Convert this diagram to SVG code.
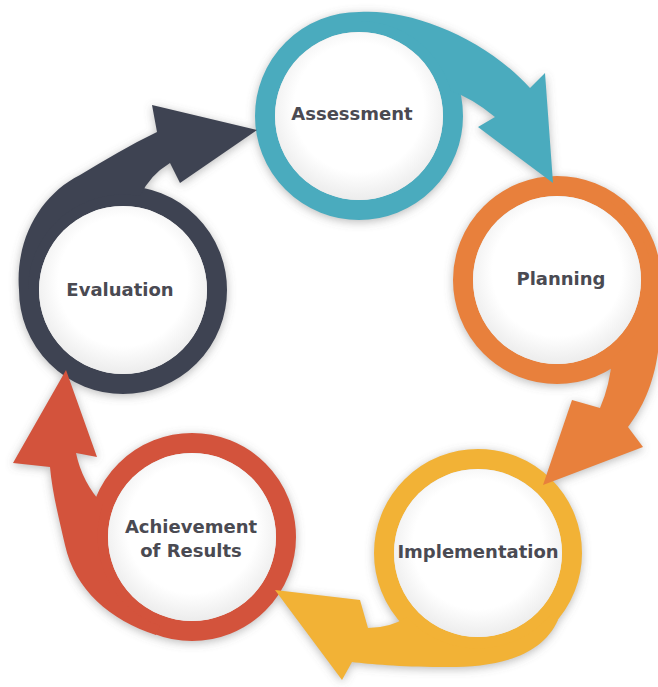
<svg xmlns="http://www.w3.org/2000/svg" xmlns:xlink="http://www.w3.org/1999/xlink" width="658" height="687" viewBox="0 0 658 687">
<defs>
<filter id="sh" x="-10%" y="-10%" width="120%" height="120%">
<feGaussianBlur in="SourceAlpha" stdDeviation="5" result="b"/>
<feOffset in="b" dx="0" dy="2" result="o"/>
<feFlood flood-color="#666666" flood-opacity="0.45"/>
<feComposite in2="o" operator="in"/>
</filter>
<radialGradient id="wg" cx="50%" cy="45%" r="55%">
<stop offset="0.7" stop-color="#ffffff"/>
<stop offset="1" stop-color="#ececec"/>
</radialGradient>
</defs>
<style>
.ring{fill:none;stroke-width:20}
.in{fill:url(#wg)}
.lbl{font-family:"DejaVu Sans","Liberation Sans",sans-serif;font-weight:bold;font-size:18px;fill:#4a4a52;text-anchor:middle}
</style>
<rect width="658" height="687" fill="#ffffff"/>
<g id="shadows" filter="url(#sh)">
<use xlink:href="#r1"/><use xlink:href="#r2"/><use xlink:href="#r3"/><use xlink:href="#r4"/><use xlink:href="#r5"/>
<use xlink:href="#a1"/><use xlink:href="#a2"/><use xlink:href="#a3"/><use xlink:href="#a4"/><use xlink:href="#a5"/>
</g>
<g id="nodes">
<g id="assessment">
<circle id="r1" class="ring" cx="359" cy="116" r="94" stroke="#4aabbe"/>
<circle class="in" cx="359" cy="116" r="84"/>
<text class="lbl" x="352" y="120">Assessment</text>
</g>
<g id="planning">
<circle id="r2" class="ring" cx="557" cy="280" r="94" stroke="#e8803c"/>
<circle class="in" cx="557" cy="280" r="84"/>
<text class="lbl" x="561" y="285">Planning</text>
</g>
<g id="implementation">
<circle id="r3" class="ring" cx="478" cy="553" r="94" stroke="#f2b236"/>
<circle class="in" cx="478" cy="553" r="84"/>
<text class="lbl" x="478" y="558">Implementation</text>
</g>
<g id="achievement">
<circle id="r4" class="ring" cx="192" cy="537" r="94" stroke="#d3533c"/>
<circle class="in" cx="192" cy="537" r="84"/>
<text class="lbl" x="191" y="533">Achievement</text>
<text class="lbl" x="191" y="557">of Results</text>
</g>
<g id="evaluation">
<circle id="r5" class="ring" cx="123" cy="290" r="94" stroke="#3e4352"/>
<circle class="in" cx="123" cy="290" r="84"/>
<text class="lbl" x="120" y="296">Evaluation</text>
</g>
</g>
<g id="connectors">
<path id="a1" fill="#4aabbe" d="M359,12 C410,8 485,38 530,88 L545,73 L553,183 L478,127 L495,117 Q472,98 451,91 A95,95 0 0 0 359,21 Z"/>
<path id="a2" fill="#e8803c" d="M624,200 C650,225 662,280 660,330 C658,375 645,405 628,427 L643,447 L543,485 L572,400 L600,408 Q610,385 612,358 A95,95 0 0 0 604,198 Z"/>
<path id="a3" fill="#f2b236" d="M558,620 C540,660 490,668 440,667 C400,667 370,664 352,662 L342,680 L275,590 L360,600 L368,628 Q390,628 407,617 A95,95 0 0 0 551,614 Z"/>
<path id="a4" fill="#d3533c" d="M156,635 C110,620 75,590 65,545 C58,515 52,490 50,467 L13,463 L66,370 L97,457 L76,453 Q82,482 103,505 A95,95 0 0 0 160,626 Z"/>
<path id="a5" fill="#3e4352" d="M19,290 C15,240 40,195 80,175 C105,160 130,145 157,132 L152,105 L257,130 L180,183 L170,163 Q150,175 140,196 A95,95 0 0 0 28,290 Z"/>
</g>
</svg>
